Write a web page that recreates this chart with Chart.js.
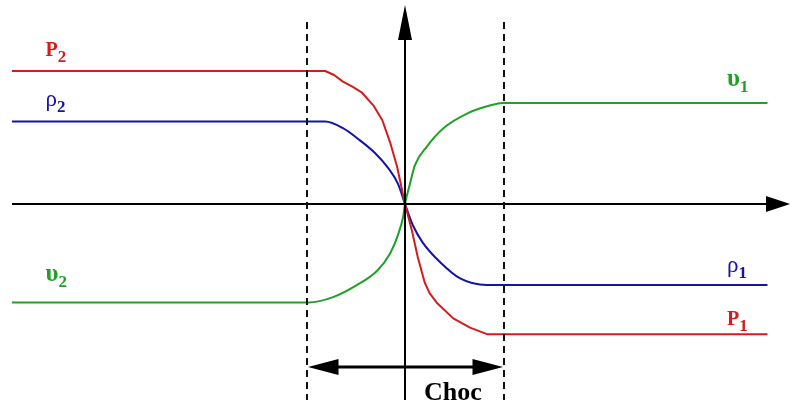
<!DOCTYPE html>
<html>
<head>
<meta charset="utf-8">
<script src="https://cdn.jsdelivr.net/npm/chart.js@4/dist/chart.umd.min.js"></script>
<style>
html,body{margin:0;padding:0;background:#fff;}
#wrap{width:795px;height:409px;}
</style>
</head>
<body>
<div id="wrap"><canvas id="c" width="795" height="409"></canvas></div>
<script>
// ---- data (x: position, shock from -1 to 1; y: normalised quantity) ----
const pX   = [-3.99,-0.81,-0.72,-0.63,-0.53,-0.44,-0.32,-0.23,-0.15,-0.08,0,0.07,0.13,0.20,0.25,0.32,0.49,0.66,0.84,3.68];
const pY   = [1.00,1.00,0.97,0.92,0.88,0.84,0.74,0.63,0.46,0.28,0,-0.20,-0.40,-0.59,-0.67,-0.74,-0.86,-0.93,-0.98,-0.98];
const rhoX = [-3.99,-0.81,-0.63,-0.46,-0.30,-0.17,-0.07,0,0.08,0.18,0.36,0.56,0.83,3.68];
const rhoY = [0.62,0.62,0.57,0.48,0.38,0.27,0.15,0,-0.16,-0.29,-0.44,-0.56,-0.61,-0.61];
const uX   = [-3.99,-0.98,-0.73,-0.49,-0.28,-0.15,-0.07,-0.02,0,0.05,0.10,0.22,0.39,0.63,0.86,0.99,3.68];
const uY   = [-0.74,-0.74,-0.70,-0.61,-0.50,-0.37,-0.23,-0.10,0,0.15,0.29,0.43,0.57,0.68,0.74,0.76,0.76];

// shock boundaries and axes extents
const shockEdges = [-0.995, 1.005];
const dashTop = 1.368, dashBottom = -1.474;
const hAxisFrom = -3.99, hAxisTo = 3.665, hAxisTip = 3.91;
const vAxisFrom = -1.474, vAxisTo = 1.233, vAxisTip = 1.496;
const chocY = -1.226, chocLeft = -0.985, chocRight = 0.995, chocHead = 0.31;
const chocText = "Choc", chocTextX = 0.487, chocTextY = -1.474;

// labels
const labelMain = ["P","\u03c1","\u03c5","\u03c5","\u03c1","P"];
const labelSub  = ["2","2","2","1","1","1"];
const labelX    = [-3.65,-3.65,-3.65,3.27,3.27,3.27];
const labelY    = [1.11,0.74,-0.58,0.89,-0.51,-0.91];
const labelColor= ["#d41c1c","#1414a8","#21a029","#21a029","#1414a8","#d41c1c"];
const labelBold = [true,false,true,true,false,true];
const labelSize = [20,23,25,25,23,20];

const RED="#d41c1c", BLUE="#1414a8", GREEN="#21a029";
const pts=(xs,ys)=>xs.map((x,i)=>({x:x,y:ys[i]}));

const datasets=[
  {data:pts([shockEdges[0],shockEdges[0]],[dashTop,dashBottom]),borderColor:"#111",borderWidth:2,borderDash:[7,5],pointRadius:0},
  {data:pts([shockEdges[1],shockEdges[1]],[dashTop,dashBottom]),borderColor:"#111",borderWidth:2,borderDash:[7,5],pointRadius:0},
  {data:pts([hAxisFrom,hAxisTo],[0,0]),borderColor:"#000",borderWidth:2,pointRadius:0},
  {data:pts([0,0],[vAxisFrom,vAxisTo]),borderColor:"#000",borderWidth:2,pointRadius:0},
  {data:pts([chocLeft+chocHead*0.8,chocRight-chocHead*0.8],[chocY,chocY]),borderColor:"#000",borderWidth:3,pointRadius:0},
  {data:pts(pX,pY),borderColor:RED,borderWidth:2,pointRadius:0,tension:0,borderJoinStyle:"round"},
  {data:pts(rhoX,rhoY),borderColor:BLUE,borderWidth:2,pointRadius:0,cubicInterpolationMode:"monotone"},
  {data:pts(uX,uY),borderColor:GREEN,borderWidth:2,pointRadius:0,cubicInterpolationMode:"monotone"}
];

const deco={
  id:"deco",
  afterDatasetsDraw(chart){
    const ctx=chart.ctx, sx=chart.scales.x, sy=chart.scales.y;
    const X=v=>sx.getPixelForValue(v), Y=v=>sy.getPixelForValue(v);
    ctx.save();
    ctx.fillStyle="#000";
    // horizontal arrow head
    ctx.beginPath();
    ctx.moveTo(X(hAxisTip),Y(0));
    ctx.lineTo(X(hAxisTo),Y(0)-8);
    ctx.lineTo(X(hAxisTo),Y(0)+8);
    ctx.closePath();ctx.fill();
    // vertical arrow head
    ctx.beginPath();
    ctx.moveTo(X(0),Y(vAxisTip));
    ctx.lineTo(X(0)-7,Y(vAxisTo));
    ctx.lineTo(X(0)+7,Y(vAxisTo));
    ctx.closePath();ctx.fill();
    // choc double arrow heads
    ctx.beginPath();
    ctx.moveTo(X(chocLeft),Y(chocY));
    ctx.lineTo(X(chocLeft+chocHead),Y(chocY)-8);
    ctx.lineTo(X(chocLeft+chocHead),Y(chocY)+8);
    ctx.closePath();ctx.fill();
    ctx.beginPath();
    ctx.moveTo(X(chocRight),Y(chocY));
    ctx.lineTo(X(chocRight-chocHead),Y(chocY)-8);
    ctx.lineTo(X(chocRight-chocHead),Y(chocY)+8);
    ctx.closePath();ctx.fill();
    // Choc text
    ctx.font='bold 26px "Liberation Serif", "DejaVu Serif", serif';
    ctx.textAlign="center";ctx.textBaseline="alphabetic";
    ctx.fillText(chocText,X(chocTextX),Y(chocTextY));
    // labels
    ctx.textAlign="left";
    for(let i=0;i<labelMain.length;i++){
      const x=X(labelX[i]), y=Y(labelY[i]);
      ctx.fillStyle=labelColor[i];
      ctx.font=(labelBold[i]?"bold ":"")+labelSize[i]+'px "Liberation Serif", "DejaVu Serif", serif';
      ctx.fillText(labelMain[i],x,y);
      const w=ctx.measureText(labelMain[i]).width;
      ctx.font='bold 17px "Liberation Serif", "DejaVu Serif", serif';
      ctx.fillText(labelSub[i],x+w,y+6);
    }
    ctx.restore();
  }
};

new Chart(document.getElementById("c"),{
  type:"line",
  data:{datasets:datasets},
  options:{
    responsive:false,animation:false,
    layout:{padding:0},
    plugins:{legend:{display:false},tooltip:{enabled:false}},
    elements:{line:{tension:0}},
    scales:{
      x:{type:"linear",display:false,min:-4.1117,max:3.9594},
      y:{type:"linear",display:false,min:-1.5414,max:1.5338}
    }
  },
  plugins:[deco]
});
</script>
</body>
</html>
